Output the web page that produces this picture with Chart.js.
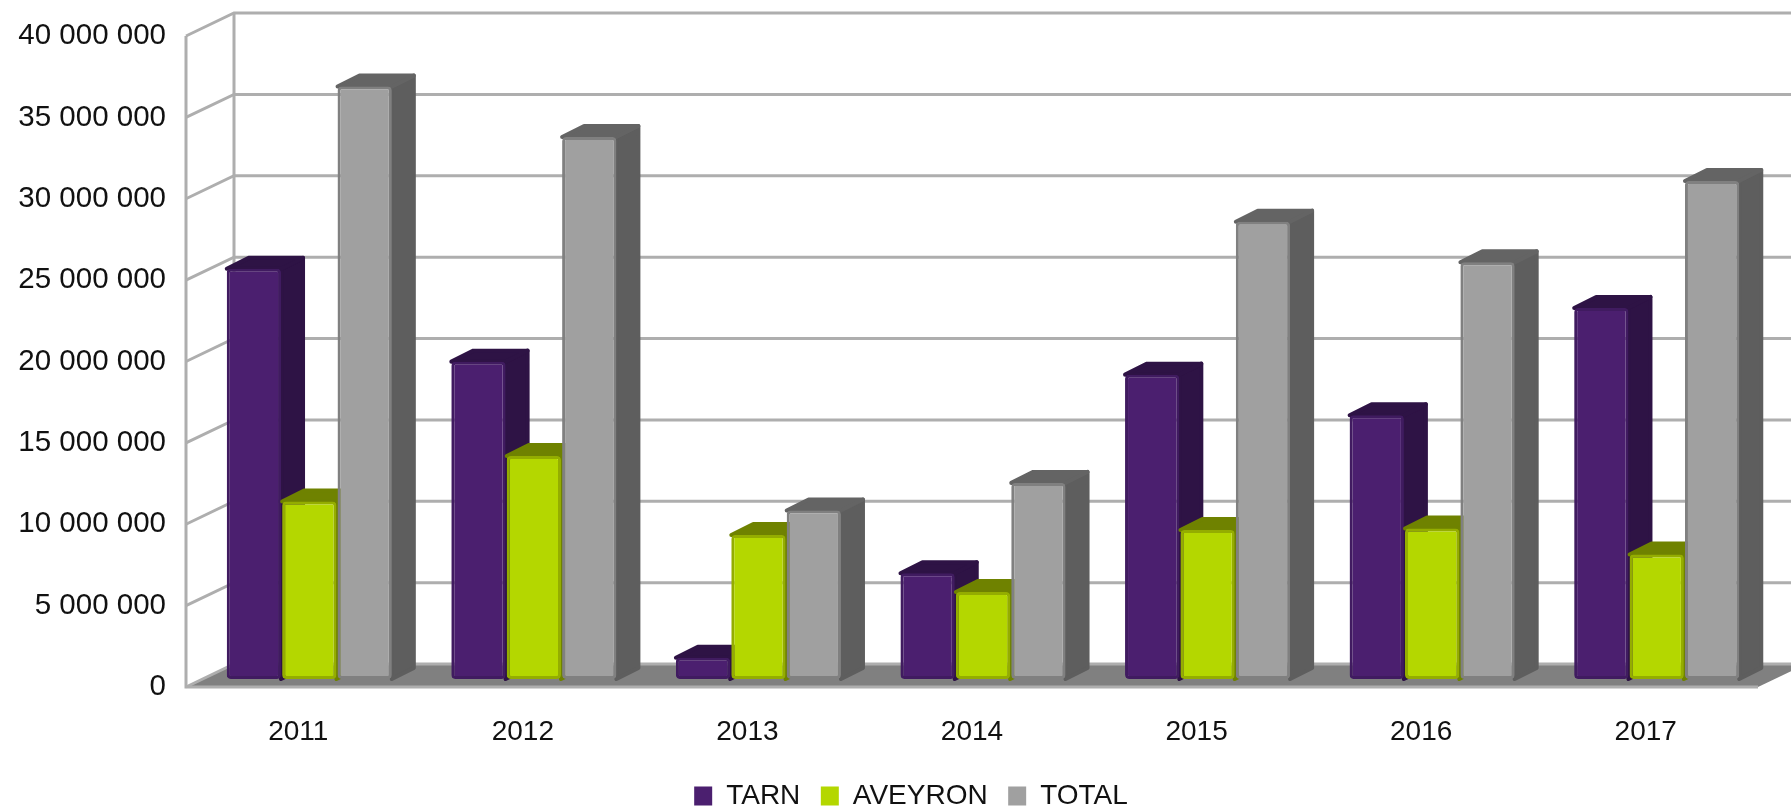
<!DOCTYPE html>
<html>
<head>
<meta charset="utf-8">
<style>html,body{margin:0;padding:0;background:#fff;overflow:hidden}canvas{display:block;filter:blur(0.6px)}</style>
<script src="https://cdn.jsdelivr.net/npm/chart.js@4"></script>
</head>
<body>
<canvas id="c" width="1791" height="809" style="width:1791px;height:809px"></canvas>
<script>
const categories = ['2011','2012','2013','2014','2015','2016','2017'];
const tarn    = [25200000,19500000,1300000,6500000,18700000,16200000,22800000];
const aveyron = [10900000,13700000,8850000,5350000,9150000,9250000,7650000];
const total   = [36400000,33300000,10350000,12050000,28100000,25600000,30600000];

const FONT = {family:'"Liberation Sans", Arial, sans-serif', size:28};
const FONT_Y = {family:'"Liberation Sans", Arial, sans-serif', size:29.5};
const WALL = {dx:48, dy:23};
const BAR_SHIFT = {dx:11, dy:-8};
const BAR_DEPTH = {dx:22, dy:11};
const LEGEND_SHIFT = 32;
const faces = [
  {side:'#2e1345', top:'#2e1345'},
  {side:'#6f8200', top:'#6f8200'},
  {side:'#5e5e5e', top:'#646464'}
];

const scene3d = {
  id:'scene3d',
  beforeInit(chart){ chart.ctx.fontKerning = 'none'; },
  afterLayout(chart){
    chart.legend.left += LEGEND_SHIFT;
    chart.legend.right += LEGEND_SHIFT;
  },
  beforeDatasetsDraw(chart){
    const {ctx, chartArea:a, scales:{y}} = chart;
    const W = chart.width;
    const y0 = y.getPixelForValue(0), yT = y.getPixelForValue(y.max);
    ctx.save();
    // floor
    ctx.fillStyle = '#808080';
    ctx.beginPath();
    ctx.moveTo(a.left,y0);ctx.lineTo(a.right,y0);
    ctx.lineTo(a.right+WALL.dx,y0-WALL.dy);ctx.lineTo(a.left+WALL.dx,y0-WALL.dy);
    ctx.closePath();ctx.fill();
    // walls
    ctx.strokeStyle = '#aeaeae';ctx.lineWidth = 3;
    y.ticks.forEach(t=>{
      const p = y.getPixelForValue(t.value);
      ctx.beginPath();
      ctx.moveTo(a.left,p);ctx.lineTo(a.left+WALL.dx,p-WALL.dy);ctx.lineTo(W,p-WALL.dy);
      ctx.stroke();
    });
    ctx.beginPath();
    ctx.moveTo(a.left,yT);ctx.lineTo(a.left,y0);ctx.lineTo(a.right,y0);
    ctx.moveTo(a.left+WALL.dx,yT-WALL.dy);ctx.lineTo(a.left+WALL.dx,y0-WALL.dy);
    ctx.stroke();
    // bars, first series at the back
    ctx.translate(BAR_SHIFT.dx,BAR_SHIFT.dy);
    ctx.lineJoin = 'round';ctx.lineWidth = 4;
    chart.data.datasets.forEach((ds,i)=>{
      const meta = chart.getDatasetMeta(i);
      meta.data.forEach(el=>{
        const L = el.x-el.width/2, R = el.x+el.width/2, T = el.y, B = el.base;
        const d = BAR_DEPTH;
        ctx.fillStyle = ctx.strokeStyle = faces[i].side;
        ctx.beginPath();
        ctx.moveTo(R,T);ctx.lineTo(R+d.dx,T-d.dy);ctx.lineTo(R+d.dx,B-d.dy);ctx.lineTo(R,B);
        ctx.closePath();ctx.fill();ctx.stroke();
        ctx.fillStyle = ctx.strokeStyle = faces[i].top;
        ctx.beginPath();
        ctx.moveTo(L,T);ctx.lineTo(L+d.dx,T-d.dy);ctx.lineTo(R+d.dx,T-d.dy);ctx.lineTo(R,T);
        ctx.closePath();ctx.fill();ctx.stroke();
      });
      meta.controller.draw();
    });
    ctx.restore();
    return false;
  }
};

new Chart(document.getElementById('c'),{
  type:'bar',
  data:{
    labels:categories,
    datasets:[
      {label:'TARN',data:tarn,backgroundColor:'#4b1f6f',borderColor:'#401b60'},
      {label:'AVEYRON',data:aveyron,backgroundColor:'#b4d700',borderColor:'#94ad00'},
      {label:'TOTAL',data:total,backgroundColor:'#a0a0a0',borderColor:'#808080'}
    ]
  },
  plugins:[scene3d],
  options:{
    responsive:false,
    animation:false,
    events:[],
    layout:{padding:{left:0,right:33,top:36,bottom:-11}},
    datasets:{bar:{categoryPercentage:0.74,barPercentage:0.98,borderWidth:3,borderRadius:4,borderSkipped:false}},
    font:FONT,
    scales:{
      x:{
        grid:{display:false},border:{display:false},
        afterFit(s){s.height=74.5;},
        ticks:{font:FONT,color:'#111',padding:20,maxRotation:0,autoSkip:false}
      },
      y:{
        min:0,max:40000000,
        grid:{display:false},border:{display:false},
        afterFit(s){s.width=186;},
        ticks:{stepSize:5000000,font:FONT_Y,color:'#111',padding:12,
          callback:v=>String(v).replace(/\B(?=(\d{3})+$)/g,' ')}
      }
    },
    plugins:{
      title:{display:false},
      tooltip:{enabled:false},
      legend:{
        position:'bottom',
        labels:{font:FONT,color:'#111',boxWidth:18,boxHeight:19,padding:20.5,
          generateLabels(chart){
            return Chart.defaults.plugins.legend.labels.generateLabels(chart).map(it=>({...it,lineWidth:0}));
          }}
      }
    }
  }
});
</script>
</body>
</html>
